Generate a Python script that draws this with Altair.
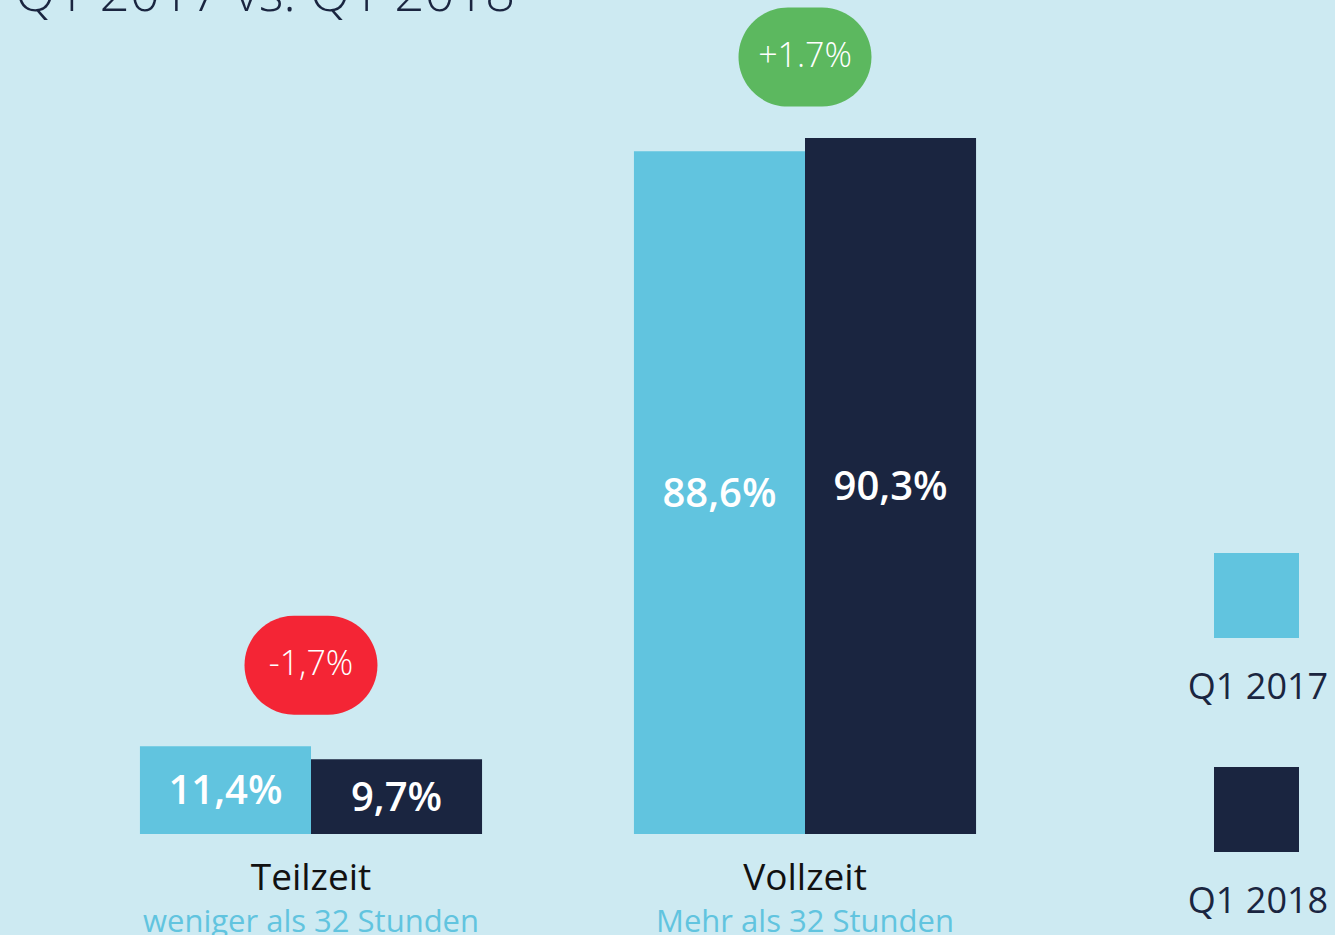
import altair as alt
import pandas as pd

# ---- data ----
categories = ["Teilzeit", "Vollzeit"]
subtitles = ["weniger als 32 Stunden", "Mehr als 32 Stunden"]
series = ["Q1 2017", "Q1 2018"]
q1_2017 = [11.4, 88.6]
q1_2018 = [9.7, 90.3]
value_labels_2017 = ["11,4%", "88,6%"]
value_labels_2018 = ["9,7%", "90,3%"]
change_values = [-1.7, 1.7]
change_labels = ["-1,7%", "+1.7%"]
title_text = "Q1 2017 vs. Q1 2018"

# ---- styles ----
BG = "#cdeaf2"
LIGHT = "#61c4df"
DARK = "#1a2540"
RED = "#f42535"
GREEN = "#5cb85f"
FONT = "Open Sans"

rows = []
for i, c in enumerate(categories):
    rows.append(dict(category=c, series=series[0], value=q1_2017[i], label=value_labels_2017[i]))
    rows.append(dict(category=c, series=series[1], value=q1_2018[i], label=value_labels_2018[i]))
bars_df = pd.DataFrame(rows)

cat_df = pd.DataFrame(dict(
    category=categories,
    subtitle=subtitles,
    change=change_values,
    change_label=change_labels,
    top=[max(a, b) for a, b in zip(q1_2017, q1_2018)],
))
legend_df = pd.DataFrame(dict(series=series))
title_df = pd.DataFrame(dict(t=[title_text]))

Y_DOMAIN = [-13.10, 108.21]
yscale = alt.Scale(domain=Y_DOMAIN, nice=False, zero=False)
xscale = alt.Scale(domain=categories, range=[64, 1052], paddingInner=0, paddingOuter=0)
xoff_scale = alt.Scale(domain=series, paddingInner=0, paddingOuter=0.444)
color_scale = alt.Scale(domain=series, range=[LIGHT, DARK])

X = alt.X("category:N", scale=xscale, axis=None)
XO = alt.XOffset("series:N", scale=xoff_scale)

bars = alt.Chart(bars_df).mark_bar().encode(
    x=X,
    xOffset=XO,
    y=alt.Y("value:Q", scale=yscale, axis=None),
    y2=alt.datum(0),
    color=alt.Color("series:N", scale=color_scale, legend=None),
)

value_text = alt.Chart(bars_df).transform_calculate(mid="datum.value / 2").mark_text(
    font=FONT, fontSize=40, fontWeight=600, color="white", baseline="middle", dy=2
).encode(
    x=X,
    xOffset=XO,
    y=alt.Y("mid:Q", scale=yscale, axis=None),
    text="label:N",
)

cat_text = alt.Chart(cat_df).transform_calculate(base="0").mark_text(
    font=FONT, fontSize=37, color="#111111", baseline="alphabetic", dy=56
).encode(
    x=X,
    y=alt.Y("base:Q", scale=yscale, axis=None),
    text="category:N",
)

sub_text = alt.Chart(cat_df).transform_calculate(base="0").mark_text(
    font=FONT, fontSize=31, color=LIGHT, baseline="alphabetic", dy=98
).encode(
    x=X,
    y=alt.Y("base:Q", scale=yscale, axis=None),
    text="subtitle:N",
)

PILL = "M-0.343,-1 L0.343,-1 A1,1 0 0 1 0.343,1 L-0.343,1 A1,1 0 0 1 -0.343,-1 Z"

badge = alt.Chart(cat_df).mark_point(
    shape=PILL, size=9801, filled=True, opacity=1, strokeWidth=0, yOffset=-81
).encode(
    x=X,
    y=alt.Y("top:Q", scale=yscale, axis=None),
    color=alt.condition("datum.change < 0", alt.value(RED), alt.value(GREEN)),
)

badge_text = alt.Chart(cat_df).mark_text(
    font=FONT, fontSize=34, fontWeight=300, color="white", baseline="middle", dy=-81
).encode(
    x=X,
    y=alt.Y("top:Q", scale=yscale, axis=None),
    text="change_label:N",
)

leg_y = alt.Y(
    "series:N",
    scale=alt.Scale(type="point", domain=series, range=[595.5, 809.5], padding=0),
    axis=None,
)

legend_sq = alt.Chart(legend_df).mark_square(size=7225, opacity=1).encode(
    x=alt.value(1256.5),
    y=leg_y,
    color=alt.Color("series:N", scale=color_scale, legend=None),
)

legend_txt = alt.Chart(legend_df).mark_text(
    font=FONT, fontSize=36, color=DARK, baseline="alphabetic", dy=103
).encode(
    x=alt.value(1258),
    y=leg_y,
    text="series:N",
)

title = alt.Chart(title_df).mark_text(
    font=FONT, fontSize=53, fontWeight=300, color=DARK, align="left", baseline="alphabetic"
).encode(
    x=alt.value(15),
    y=alt.value(11),
    text="t:N",
)

chart = alt.layer(
    bars, value_text, cat_text, sub_text, badge, badge_text, legend_sq, legend_txt, title
).resolve_scale(y="independent").properties(
    width=1335, height=935, background=BG, padding=0, autosize="none"
).configure_view(stroke=None)

chart.save("out.html", embed_options={"renderer": "svg", "actions": False})
